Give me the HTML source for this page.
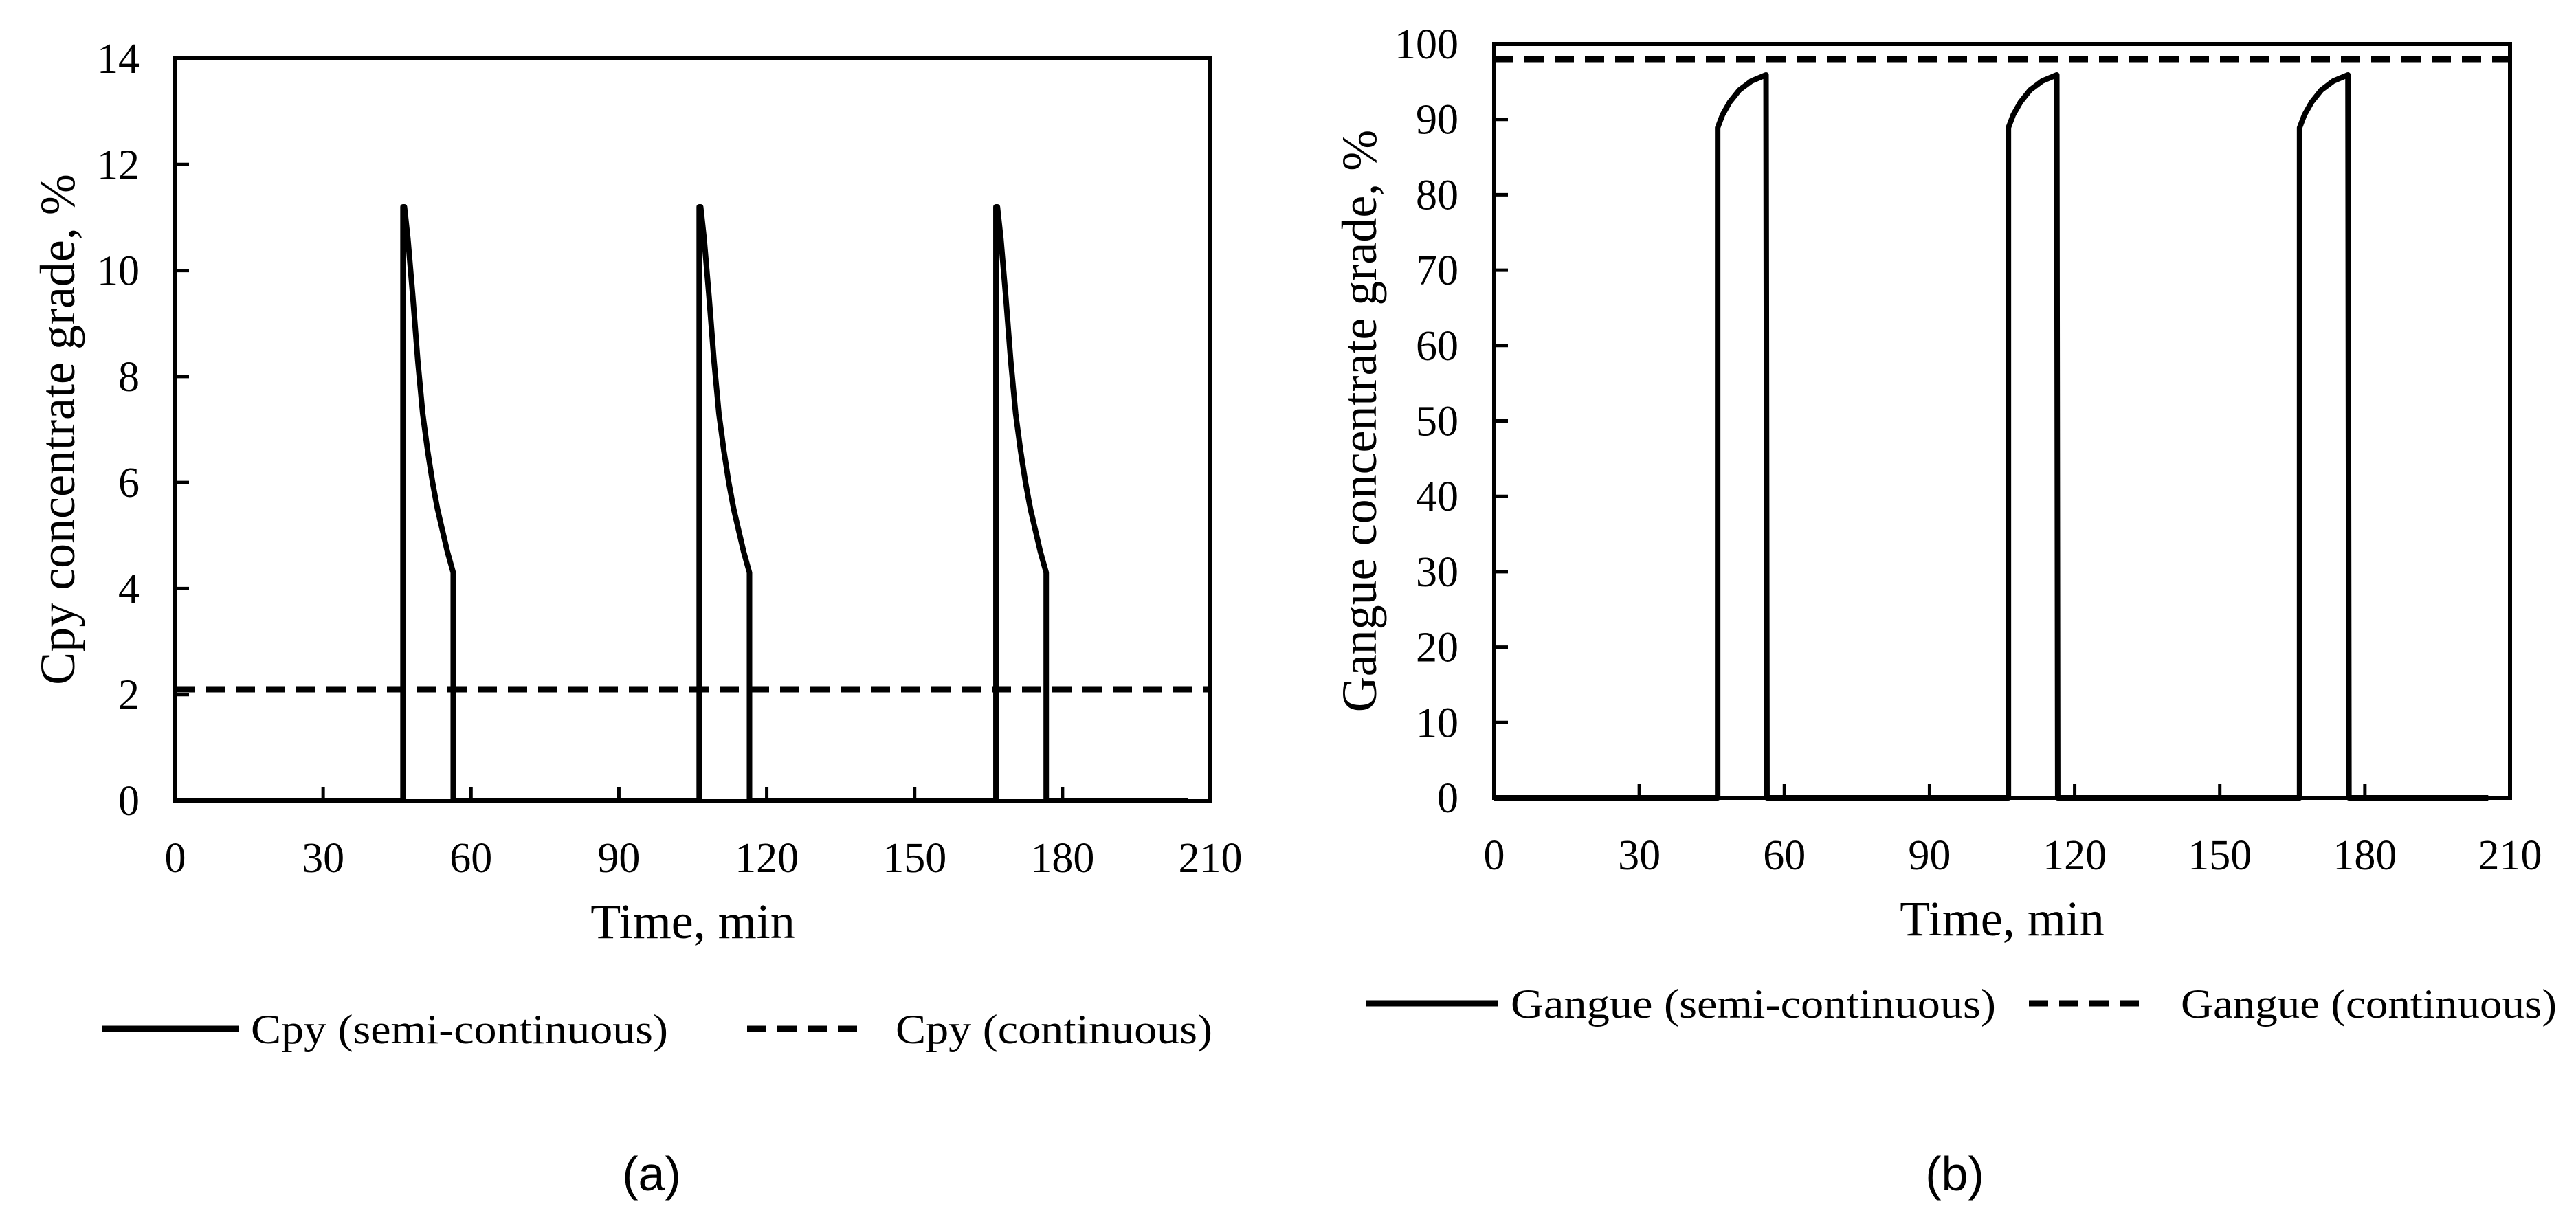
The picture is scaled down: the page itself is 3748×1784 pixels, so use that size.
<!DOCTYPE html>
<html><head><meta charset="utf-8"><style>
html,body{margin:0;padding:0;background:#fff}
svg{display:block}
text{font-family:"Liberation Serif",serif;fill:#000}
</style></head><body>
<svg id="fig" width="3748" height="1784" viewBox="0 0 3748 1784" xmlns="http://www.w3.org/2000/svg">
<g id="chartA"></g>
<g id="chartB"></g>
<g>
  <line x1="149" y1="1497" x2="348" y2="1497" stroke="#000" stroke-width="9"/>
  <text x="365" y="1518" font-size="60" textLength="607" lengthAdjust="spacingAndGlyphs">Cpy (semi-continuous)</text>
  <line x1="1087" y1="1497" x2="1260" y2="1497" stroke="#000" stroke-width="9" stroke-dasharray="28,16"/>
  <text x="1303" y="1518" font-size="60" textLength="461" lengthAdjust="spacingAndGlyphs">Cpy (continuous)</text>
</g>
<g>
  <line x1="1987" y1="1460" x2="2179" y2="1460" stroke="#000" stroke-width="9"/>
  <text x="2198" y="1481" font-size="60" textLength="706" lengthAdjust="spacingAndGlyphs">Gangue (semi-continuous)</text>
  <line x1="2952" y1="1460" x2="3125" y2="1460" stroke="#000" stroke-width="9" stroke-dasharray="28,16"/>
  <text x="3173" y="1481" font-size="60" textLength="547" lengthAdjust="spacingAndGlyphs">Gangue (continuous)</text>
</g>
<text x="948" y="1732" font-size="70" text-anchor="middle" style="font-family:'Liberation Sans',sans-serif">(a)</text>
<text x="2844" y="1732" font-size="70" text-anchor="middle" style="font-family:'Liberation Sans',sans-serif">(b)</text>
</svg>
<script>
const NS="http://www.w3.org/2000/svg";
const xTicks=[0,30,60,90,120,150,180,210];
const yTicksA=[0,2,4,6,8,10,12,14];
const yTicksB=[0,10,20,30,40,50,60,70,80,90,100];
const cycleStarts=[46.2,106.3,166.5];
const cycleLen=10.2;
const endTime=205.5;
const cpyOffsets=[0,0.3,1,2,3,4,5,6,7,8,9,10.2];
const cpyValues=[11.2,11.2,10.6,9.5,8.3,7.3,6.6,6.0,5.5,5.1,4.7,4.3];
const cpyContinuous=2.1;
const gangueOffsets=[0,1,2.5,4.5,7,10];
const gangueValues=[88.9,90.6,92.3,93.9,95.1,95.9];
const gangueContinuous=98;

function mk(parent,tag,attrs){const e=document.createElementNS(NS,tag);for(const k in attrs)e.setAttribute(k,attrs[k]);parent.appendChild(e);return e;}

function drawChart(g,cfg){
  const X=v=>cfg.l+(v-0)/(210-0)*(cfg.r-cfg.l);
  const Y=v=>cfg.b-(v-cfg.ymin)/(cfg.ymax-cfg.ymin)*(cfg.b-cfg.t);
  const frame=mk(g,'rect',{x:cfg.l,y:cfg.t,width:cfg.r-cfg.l,height:cfg.b-cfg.t,fill:'none',stroke:'#000','stroke-width':6});
  
  
  xTicks.forEach(v=>{
    const tk=mk(g,'line',{x1:X(v),y1:cfg.b,x2:X(v),y2:cfg.b-20,stroke:'#000','stroke-width':5});
    
    
    const t=mk(g,'text',{x:X(v),y:cfg.b+104,'font-size':62,'text-anchor':'middle'});
    t.textContent=v;
    
    
  });
  cfg.yTicks.forEach(v=>{
    const tk=mk(g,'line',{x1:cfg.l,y1:Y(v),x2:cfg.l+20,y2:Y(v),stroke:'#000','stroke-width':5});
    
    
    const t=mk(g,'text',{x:cfg.l-52,y:Y(v)+21,'font-size':62,'text-anchor':'end'});
    t.textContent=v;
    
    
  });
  const xt=mk(g,'text',{x:(cfg.l+cfg.r)/2,y:cfg.b+200,'font-size':72,'text-anchor':'middle'});
  xt.textContent='Time, min';
  
  
  const yt=mk(g,'text',{x:0,y:0,'font-size':72,'text-anchor':'middle',transform:`translate(${cfg.ytx},${(cfg.t+cfg.b)/2}) rotate(-90)`});
  yt.textContent=cfg.ytitle;
  
  
  let d=`M${X(0)},${Y(0)}`;
  cycleStarts.forEach(s=>{
    d+=` L${X(s)},${Y(0)}`;
    cfg.offs.forEach((o,i)=>{d+=` L${X(s+o)},${Y(cfg.vals[i])}`;});
    d+=` L${X(s+cycleLen)},${Y(0)}`;
  });
  d+=` L${X(endTime)},${Y(0)}`;
  const p=mk(g,'path',{d:d,fill:'none',stroke:'#000','stroke-width':8,'stroke-linejoin':'round'});
  
  
  const dl=mk(g,'line',{x1:cfg.l,y1:Y(cfg.cont),x2:cfg.r,y2:Y(cfg.cont),stroke:'#000','stroke-width':9,'stroke-dasharray':'28,16'});
  
  
}
drawChart(document.getElementById('chartA'),{l:255,r:1761,t:85,b:1165,ymin:0,ymax:14,yTicks:yTicksA,ytx:108,ytitle:'Cpy concentrate grade, %',offs:cpyOffsets,vals:cpyValues,cont:cpyContinuous});
drawChart(document.getElementById('chartB'),{l:2174,r:3652,t:64,b:1161,ymin:0,ymax:100,yTicks:yTicksB,ytx:2002,ytitle:'Gangue concentrate grade, %',offs:gangueOffsets,vals:gangueValues,cont:gangueContinuous});
</script>
</body></html>
